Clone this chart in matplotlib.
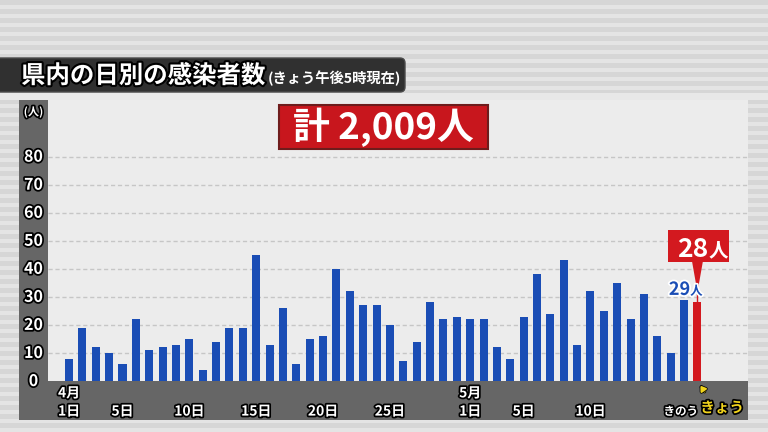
import matplotlib
matplotlib.use("Agg")
import matplotlib.pyplot as plt
import matplotlib.patheffects as pe
from matplotlib.patches import Rectangle, FancyBboxPatch, Polygon
import numpy as np

plt.rcParams['font.family'] = ['Noto Sans CJK JP', 'DejaVu Sans']

# ---- data ----
values = [8, 19, 12, 10, 6, 22, 11, 12, 13, 15, 4, 14, 19, 19, 45, 13, 26, 6, 15, 16,
          40, 32, 27, 27, 20, 7, 14, 28, 22, 23,
          22, 22, 12, 8, 23, 38, 24, 43, 13, 32, 25, 35, 22, 31, 16, 10, 29, 28]
tick_pos = [0, 4, 9, 14, 19, 24, 30, 34, 39]
tick_labels = ['1日', '5日', '10日', '15日', '20日', '25日', '1日', '5日', '10日']
month_pos = [0, 30]
month_labels = ['4月', '5月']
ytick_values = [0, 10, 20, 30, 40, 50, 60, 70, 80]
title = '県内の日別の感染者数'
subtitle = '(きょう午後5時現在)'
total_text = '計 2,009人'
yesterday_label = 'きのう'
today_label = 'きょう'

BLUE = '#1a4db5'
RED = '#d3191f'
DARK = '#666666'
PANEL = '#ececec'
YELLOW = '#f2d41c'

W, H = 768, 432
fig = plt.figure(figsize=(W / 100, H / 100), dpi=100)

# background (pixel coordinates)
bg = fig.add_axes([0, 0, 1, 1])
bg.set_xlim(0, W)
bg.set_ylim(H, 0)
bg.axis('off')
bg.add_patch(Rectangle((0, 0), W, H, color='#e4e4e4', zorder=0))
for y in np.arange(0, H, 9):
    bg.add_patch(Rectangle((0, y), W, 4.5, color='#d6d6d6', zorder=1, lw=0))
bg.add_patch(Rectangle((0, 93), W, 7, color='#e8e8e8', zorder=1, lw=0))
# title box
bg.add_patch(FancyBboxPatch((-20, 58), 425, 34, boxstyle='round,pad=0,rounding_size=5',
                            fc='#303030', ec='#4a4a4a', lw=1, zorder=3))
stroke = [pe.withStroke(linewidth=3, foreground='black')]
bg.text(21, 76, title, color='white', fontsize=17.6, fontweight='bold',
        va='center', ha='left', zorder=4, path_effects=stroke)
bg.text(268, 78, subtitle, color='white', fontsize=10.3, fontweight='bold',
        va='center', ha='left', zorder=4)

# chart axes
x0, x1 = -3.74, 50.78
y0, y1 = -13.9, 100.2
ax = fig.add_axes([19 / W, (H - 420) / H, 729 / W, 320 / H])
ax.set_xlim(x0, x1)
ax.set_ylim(y0, y1)
ax.set_facecolor(PANEL)
for s in ax.spines.values():
    s.set_visible(False)
ax.set_xticks([])
ax.set_yticks([])

strip_x = -1.57
ax.axvspan(x0, strip_x, color=DARK, zorder=1, lw=0)
ax.axhspan(y0, 0, color=DARK, zorder=1, lw=0)

ax.hlines(ytick_values[1:], strip_x, x1, colors='#c6c6c6', linestyles=(0, (3, 2)),
          lw=1.0, zorder=0.5)

idx = np.arange(len(values))
ax.bar(idx[:-1], values[:-1], width=0.6, color=BLUE, zorder=2)
ax.bar(idx[-1], values[-1], width=0.6, color=RED, zorder=2)

# y tick labels
lab_stroke = [pe.withStroke(linewidth=2.5, foreground='black')]
for v in ytick_values:
    ax.text((x0 + strip_x) / 2, v, str(v), color='white', fontsize=11.5, fontweight='bold',
            ha='center', va='center', zorder=5, path_effects=lab_stroke)
ax.text((x0 + strip_x) / 2, 95.9, '(人)', color='white', fontsize=8, fontweight='bold',
        ha='center', va='center', zorder=5, path_effects=lab_stroke)

# x tick labels
for p, l in zip(tick_pos, tick_labels):
    ax.text(p, -10.9, l, color='white', fontsize=10, fontweight='bold',
            ha='center', va='center', zorder=5, path_effects=lab_stroke)
for p, l in zip(month_pos, month_labels):
    ax.text(p, -4.4, l, color='white', fontsize=10, fontweight='bold',
            ha='center', va='center', zorder=5, path_effects=lab_stroke)
ax.text(idx[-2] - 0.25, -10.9, yesterday_label, color='white', fontsize=8.3, fontweight='bold',
        ha='center', va='center', zorder=5, path_effects=lab_stroke)
ax.text(idx[-1] + 1.85, -9.4, today_label, color=YELLOW, fontsize=10.5, fontweight='bold',
        ha='center', va='center', zorder=5, path_effects=lab_stroke)
ax.annotate('', xy=(idx[-1] + 0.1, -0.8), xytext=(idx[-1] + 0.65, -4.6),
            arrowprops=dict(arrowstyle='-|>,head_width=0.2,head_length=0.3', color=YELLOW,
                            lw=1.4, path_effects=[pe.withStroke(linewidth=2.5, foreground='black')]),
            zorder=5)

# yesterday label
blue_stroke = [pe.withStroke(linewidth=2.5, foreground='white')]
ax.text(idx[-2] + 0.45, 30.7, str(values[-2]), color=BLUE, fontsize=13, fontweight='bold',
        ha='right', va='baseline', zorder=5, path_effects=blue_stroke)
ax.text(idx[-2] + 0.45, 30.7, '人', color=BLUE, fontsize=9, fontweight='bold',
        ha='left', va='baseline', zorder=5, path_effects=blue_stroke)

# today callout
cx = idx[-1]
ax.add_patch(Rectangle((44.8, 42.4), 4.55, 11.5, fc=RED, ec='none', zorder=4))
ax.add_patch(Polygon([[cx - 0.4, 42.5], [cx + 0.4, 42.5], [cx, 31.7]], closed=True,
                     fc=RED, ec='none', zorder=4))
ax.plot([cx, cx], [31.7, values[-1] + 0.3], color=RED, lw=1, zorder=4)
ax.text(cx + 0.8, 44.3, str(values[-1]), color='white', fontsize=19, fontweight='bold',
        ha='right', va='baseline', zorder=6)
ax.text(cx + 0.8, 44.3, '人', color='white', fontsize=14, fontweight='bold',
        ha='left', va='baseline', zorder=6)

# total box
ax.add_patch(Rectangle((15.7, 82.7), 15.64, 15.7, fc='#c8161d', ec='#6e1c1c', lw=1.5, zorder=4))
ax.text(23.52, 90.3, total_text, color='white', fontsize=26.5, fontweight='bold',
        ha='center', va='center', zorder=6)

fig.savefig('out.png', dpi=100)
